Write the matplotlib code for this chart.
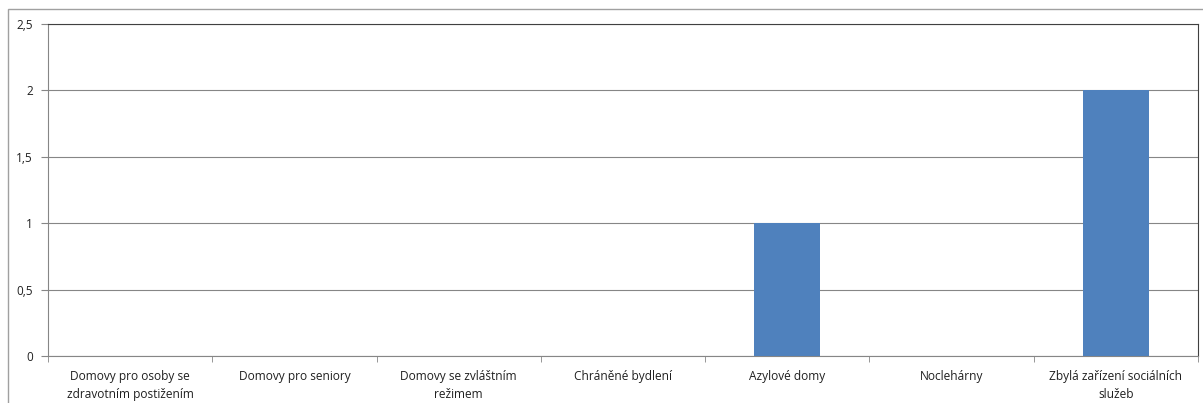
import matplotlib
matplotlib.use("Agg")
import matplotlib.pyplot as plt
from matplotlib.patches import Rectangle

categories = [
    "Domovy pro osoby se\nzdravotním postižením",
    "Domovy pro seniory",
    "Domovy se zvláštním\nrežimem",
    "Chráněné bydlení",
    "Azylové domy",
    "Noclehárny",
    "Zbylá zařízení sociálních\nslužeb",
]
values = [0, 0, 0, 0, 1, 0, 2]
yticks = [0, 0.5, 1, 1.5, 2, 2.5]
ytick_labels = ["0", "0,5", "1", "1,5", "2", "2,5"]

W, H = 1203, 403
fig = plt.figure(figsize=(W / 100, H / 100), dpi=100)
plt.rcParams["font.family"] = ["Open Sans", "DejaVu Sans"]

# outer chart frame (cropped at right/bottom)
fig.patches.append(Rectangle((8 / W, -0.1), 1.2, (H - 9) / H + 0.1,
                             transform=fig.transFigure, fill=False,
                             edgecolor="#a0a0a0", linewidth=1))

left, right, top, bottom = 48, 1198, 24, 356
ax = fig.add_axes([left / W, (H - bottom) / H, (right - left) / W, (bottom - top) / H])

x = list(range(len(categories)))
ax.bar(x, values, width=0.4, color="#4F81BD", zorder=3)

ax.set_xlim(-0.5, len(categories) - 0.5)
ax.set_ylim(0, 2.5)
ax.set_yticks(yticks)
ax.set_yticklabels(ytick_labels, fontsize=8.5, color="#202020")
ax.yaxis.grid(True, color="#868686", linewidth=0.8, zorder=0)

ax.set_xticks(x)
ax.set_xticklabels(categories, fontsize=8.6, linespacing=1.5, color="#202020")
ax.tick_params(axis="x", length=0, pad=10)
ax.set_xticks([i - 0.5 for i in range(len(categories) + 1)], minor=True)
ax.tick_params(axis="x", which="minor", length=4, color="#868686", direction="out")
ax.tick_params(axis="y", length=5, color="#868686", pad=6)

for side in ["top", "right"]:
    ax.spines[side].set_color("#404040")
for side in ["left", "bottom"]:
    ax.spines[side].set_color("#868686")

fig.savefig("out.png", dpi=100)
